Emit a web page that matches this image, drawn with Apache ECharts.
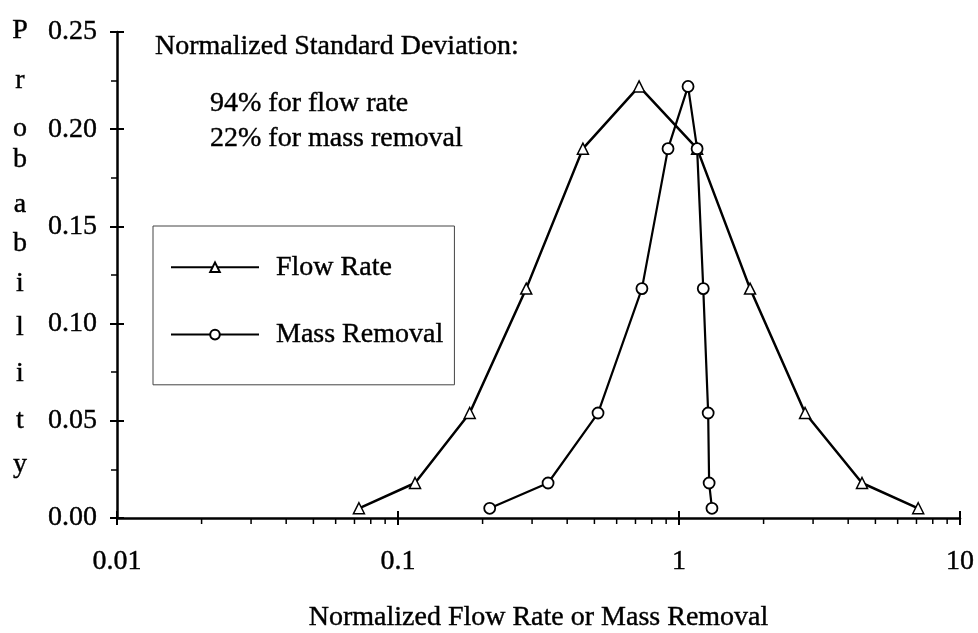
<!DOCTYPE html>
<html>
<head>
<meta charset="utf-8">
<script src="https://cdn.jsdelivr.net/npm/echarts@6/dist/echarts.min.js"></script>
<style>
  html, body { margin: 0; padding: 0; background: #fff; }
  #chart { width: 978px; height: 633px; }
</style>
</head>
<body>
<div id="chart"></div>
<script>
// Normalized values (log scale) and their probabilities
const flowRateX = [0.0726, 0.115, 0.180, 0.286, 0.455, 0.721, 1.16, 1.79, 2.81, 4.48, 7.1];
const flowRateP = [0.005, 0.018, 0.054, 0.118, 0.190, 0.222, 0.190, 0.118, 0.054, 0.018, 0.005];
const massRemovalX = [0.212, 0.342, 0.515, 0.738, 0.914, 1.077, 1.16, 1.22, 1.27, 1.28, 1.31];
const massRemovalP = [0.005, 0.018, 0.054, 0.118, 0.190, 0.222, 0.190, 0.118, 0.054, 0.018, 0.005];

const seriesNames = ['Flow Rate', 'Mass Removal'];
const xTickLabels = ['0.01', '0.1', '1', '10'];
const xMinorTicks = [0.02, 0.03, 0.04, 0.05, 0.06, 0.07, 0.08, 0.09,
                     0.2, 0.3, 0.4, 0.5, 0.6, 0.7, 0.8, 0.9,
                     2, 3, 4, 5, 6, 7, 8, 9];
const yAxisTitle = 'Probability';
const xAxisTitle = 'Normalized Flow Rate or Mass Removal';
const noteLines = ['Normalized Standard Deviation:', '94% for flow rate', '22% for mass removal'];

const FONT = "'Liberation Serif', 'Times New Roman', serif";
const FS = 28;
const INK = { textBorderColor: '#000', textBorderWidth: 0.4 };

// vertical placement of the stacked axis-title letters
const letterRows = [31, 81, 129, 160, 205, 244, 284, 328, 374, 421, 465];

const chart = echarts.init(document.getElementById('chart'), null, { renderer: 'canvas' });

const pairs = (xs, ys) => xs.map((x, i) => [x, ys[i]]);

const textStyle = (text) => ({
  text, font: `${FS}px ${FONT}`, fill: '#000', stroke: '#000', lineWidth: 0.4,
  textAlign: 'left', textVerticalAlign: 'middle'
});

// Vertical axis title, one letter per line
const letterGraphics = yAxisTitle.split('').map((ch, i) => ({
  type: 'text',
  x: 20,
  y: letterRows[i],
  style: Object.assign(textStyle(ch), { textAlign: 'center' })
}));

const noteGraphics = [
  { type: 'text', x: 155, y: 47, style: textStyle(noteLines[0]) },
  { type: 'text', x: 210, y: 104, style: textStyle(noteLines[1]) },
  { type: 'text', x: 210, y: 139, style: textStyle(noteLines[2]) }
];

const axisLineStyle = { color: '#000', width: 2.5 };

const option = {
  backgroundColor: '#fff',
  animation: false,
  textStyle: { fontFamily: FONT, color: '#000' },
  grid: { left: 117, right: 18, top: 32, bottom: 115, containLabel: false, outerBoundsMode: 'none' },
  legend: {
    data: seriesNames,
    orient: 'vertical',
    left: 153,
    top: 226,
    padding: [27, 11, 36, 17],
    itemWidth: 88,
    itemHeight: 12,
    itemGap: 39,
    borderColor: '#444',
    borderWidth: 1,
    textStyle: Object.assign({ fontFamily: FONT, fontSize: FS, color: '#000', padding: [0, 0, 0, 12] }, INK)
  },
  xAxis: [
    {
      type: 'log',
      logBase: 10,
      min: 0.01,
      max: 10,
      position: 'bottom',
      axisLine: { show: true, lineStyle: axisLineStyle },
      axisTick: { show: true, length: 7, lineStyle: { color: '#000', width: 2 } },
      splitLine: { show: false },
      axisLabel: Object.assign({
        margin: 30,
        fontFamily: FONT,
        fontSize: FS,
        color: '#000',
        formatter: (v, i) => xTickLabels[i] !== undefined ? xTickLabels[i] : ''
      }, INK),
      name: xAxisTitle,
      nameLocation: 'middle',
      nameGap: 86,
      nameTextStyle: Object.assign({ fontFamily: FONT, fontSize: FS, color: '#000' }, INK)
    },
    {
      type: 'log',
      logBase: 10,
      min: 0.01,
      max: 10,
      position: 'bottom',
      axisLine: { show: false },
      axisTick: { show: true, inside: true, length: 7, lineStyle: { color: '#000', width: 2 } },
      axisLabel: { show: false },
      splitLine: { show: false }
    }
  ],
  yAxis: [
    {
      type: 'value',
      min: 0,
      max: 0.25,
      interval: 0.05,
      position: 'left',
      axisLine: { show: true, lineStyle: axisLineStyle },
      axisTick: { show: true, length: 7, lineStyle: { color: '#000', width: 2 } },
      minorTick: { show: true, splitNumber: 2, length: 6, lineStyle: { color: '#000', width: 1.5 } },
      splitLine: { show: false },
      axisLabel: Object.assign({
        margin: 20,
        fontFamily: FONT,
        fontSize: FS,
        color: '#000',
        padding: [0, 0, 4, 0],
        formatter: v => v.toFixed(2)
      }, INK)
    },
    {
      type: 'value',
      min: 0,
      max: 0.25,
      interval: 0.05,
      position: 'left',
      axisLine: { show: false },
      axisTick: { show: true, inside: true, length: 7, lineStyle: { color: '#000', width: 2 } },
      axisLabel: { show: false },
      splitLine: { show: false }
    }
  ],
  graphic: [...letterGraphics, ...noteGraphics],
  series: [
    {
      name: seriesNames[0],
      type: 'line',
      xAxisIndex: 0,
      yAxisIndex: 0,
      data: pairs(flowRateX, flowRateP),
      symbol: 'triangle',
      symbolSize: 11,
      showAllSymbol: true,
      lineStyle: { color: '#000', width: 2.5 },
      itemStyle: { color: '#fff', borderColor: '#000', borderWidth: 1.5 },
      z: 3
    },
    {
      name: seriesNames[1],
      type: 'line',
      xAxisIndex: 0,
      yAxisIndex: 0,
      data: pairs(massRemovalX, massRemovalP),
      symbol: 'circle',
      symbolSize: 11,
      showAllSymbol: true,
      lineStyle: { color: '#000', width: 2.2 },
      itemStyle: { color: '#fff', borderColor: '#000', borderWidth: 1.8 },
      z: 4
    },
    {
      // minor ticks of the logarithmic axis at 2..9 of each decade
      type: 'custom',
      xAxisIndex: 0,
      yAxisIndex: 0,
      silent: true,
      clip: false,
      data: xMinorTicks.map(v => [v, 0]),
      renderItem: (params, api) => {
        const p = api.coord([api.value(0), api.value(1)]);
        return {
          type: 'line',
          shape: { x1: p[0], y1: p[1], x2: p[0], y2: p[1] + 6 },
          style: { stroke: '#000', lineWidth: 1.5 }
        };
      },
      z: 2
    }
  ]
};

chart.setOption(option);
</script>
</body>
</html>
